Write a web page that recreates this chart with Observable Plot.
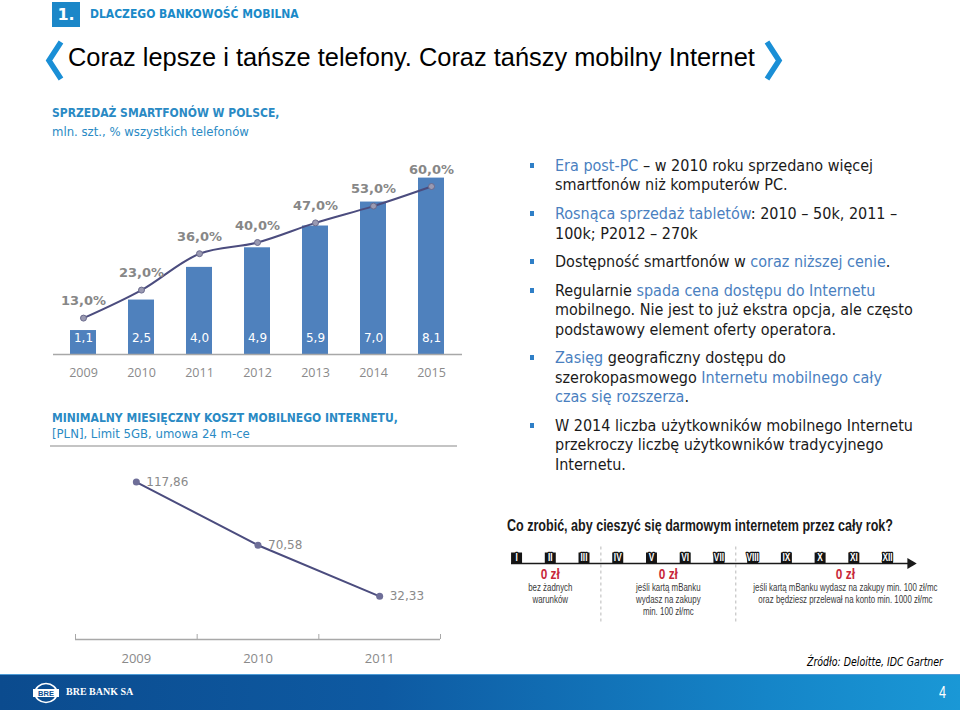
<!DOCTYPE html>
<html><head><meta charset="utf-8">
<script src="https://cdn.jsdelivr.net/npm/d3@7"></script>
<script src="https://cdn.jsdelivr.net/npm/@observablehq/plot@0.6"></script>
<style>
body{margin:0;background:#fff;}
#slide{position:relative;width:960px;height:710px;overflow:hidden;font-family:"DejaVu Sans Condensed","DejaVu Sans",sans-serif;font-stretch:condensed;color:#1a1a1a;}
.abs{position:absolute;white-space:nowrap;}
.chart{font-stretch:normal;}
.blue{color:#4a7fbf;}
#bullets{position:absolute;left:555px;top:156px;font-size:16px;line-height:19.4px;}
#bullets p{margin:0 0 9.3px 0;position:relative;white-space:nowrap;}
#bullets p::before{content:"";position:absolute;left:-25px;top:7px;width:4px;height:5px;background:#2f7fc7;}
.fit{transform-origin:0 50%;}
</style></head>
<body><div id="slide">
  <div class="abs" style="left:52px;top:2px;width:28px;height:25px;background:#1b87c8;color:#fff;font:bold 16px 'DejaVu Sans',sans-serif;line-height:25px;text-align:center;">1.</div>
  <div class="abs" style="left:90px;top:6px;font-size:12px;font-weight:bold;line-height:16px;color:#1a8ac8;">DLACZEGO BANKOWOŚĆ MOBILNA</div>
  <svg class="abs" style="left:40px;top:36px" width="30" height="50"><polyline points="21,6 9,24.5 21,43" fill="none" stroke="#1a8fd6" stroke-width="5.5" stroke-linejoin="miter"/></svg>
  <svg class="abs" style="left:755px;top:36px" width="30" height="50"><polyline points="12,6 24,24.5 12,43" fill="none" stroke="#1a8fd6" stroke-width="5.5" stroke-linejoin="miter"/></svg>
  <div class="abs" style="left:68px;top:43px;font-family:'Liberation Sans',Arial,sans-serif;font-stretch:normal;font-size:25.4px;line-height:28px;color:#000;">Coraz lepsze i tańsze telefony. Coraz tańszy mobilny Internet</div>

  <div class="abs" style="left:52px;top:105px;font-size:12px;font-weight:bold;line-height:16px;color:#2a8ac4;">SPRZEDAŻ SMARTFONÓW W POLSCE,</div>
  <div class="abs" style="left:52px;top:124px;font-size:13px;line-height:16px;color:#2a8ac4;">mln. szt., % wszystkich telefonów</div>
  <div id="chart1" class="abs chart" style="left:40px;top:150px;width:440px;height:240px;"></div>

  <div class="abs" style="left:52px;top:410px;font-size:12px;font-weight:bold;line-height:16px;color:#2a8ac4;">MINIMALNY MIESIĘCZNY KOSZT MOBILNEGO INTERNETU,</div>
  <div class="abs" style="left:52px;top:426px;font-size:13px;line-height:16px;color:#2a8ac4;">[PLN], Limit 5GB, umowa 24 m-ce</div>
  <div class="abs" style="left:50px;top:445px;width:407px;height:2px;background:#c4c4c4;"></div>
  <div id="chart2" class="abs chart" style="left:40px;top:450px;width:440px;height:225px;"></div>

  <div id="bullets">
    <p><span class="blue">Era post-PC</span> – w 2010 roku sprzedano więcej<br>smartfonów niż komputerów PC.</p>
    <p><span class="blue">Rosnąca sprzedaż tabletów</span>: 2010 – 50k, 2011 –<br>100k; P2012 – 270k</p>
    <p>Dostępność smartfonów w <span class="blue">coraz niższej cenie</span>.</p>
    <p>Regularnie <span class="blue">spada cena dostępu do Internetu</span><br>mobilnego. Nie jest to już ekstra opcja, ale często<br>podstawowy element oferty operatora.</p>
    <p><span class="blue">Zasięg</span> geograficzny dostępu do<br>szerokopasmowego <span class="blue">Internetu mobilnego cały<br>czas się rozszerza</span>.</p>
    <p>W 2014 liczba użytkowników mobilnego Internetu<br>przekroczy liczbę użytkowników tradycyjnego<br>Internetu.</p>
  </div>

  <div class="abs fit" data-fit="386" style="left:507px;top:516px;font-family:'Liberation Sans',Arial,sans-serif;font-stretch:normal;font-size:16px;font-weight:bold;line-height:20px;color:#1a1a1a;">Co zrobić, aby cieszyć się darmowym internetem przez cały rok?</div>
  <div id="chart3" class="abs chart" style="left:480px;top:540px;width:460px;height:90px;"></div>

  <div class="abs fit" data-fit="136" style="left:807px;top:654px;font-size:12px;font-style:italic;line-height:16px;color:#000;">Źródło: Deloitte, IDC Gartner</div>

  <div class="abs" style="left:0;top:674px;width:960px;height:36px;background:linear-gradient(to right,#0b4b8e 0%,#0e5aa2 40%,#1585c8 80%,#1a98d6 100%);border-top:1px solid #4d9bd6;"></div>
  <svg class="abs" style="left:33px;top:682px" width="28" height="22">
    <ellipse cx="13" cy="11" rx="11" ry="9.5" fill="none" stroke="#fff" stroke-width="1.6"/>
    <rect x="0" y="7" width="26" height="8" fill="#fff"/>
    <text x="13" y="13.8" text-anchor="middle" font-family="Liberation Sans" font-weight="bold" font-size="7.5" fill="#0c4f93">BRE</text>
  </svg>
  <div class="abs" style="left:66px;top:685px;font-family:'Liberation Serif',serif;font-stretch:normal;font-weight:bold;font-size:10px;line-height:14px;color:#fff;">BRE BANK SA</div>
  <div class="abs fit" data-fit="7" style="left:939px;top:684px;font-family:'Liberation Sans',sans-serif;font-stretch:normal;font-size:16px;line-height:18px;color:#fff;">4</div>
</div>
<script>
// ---- data ----
const years = ["2009", "2010", "2011", "2012", "2013", "2014", "2015"];
const salesMln = [1.1, 2.5, 4.0, 4.9, 5.9, 7.0, 8.1];
const sharePct = [13.0, 23.0, 36.0, 40.0, 47.0, 53.0, 60.0];
const costYears = [2009, 2010, 2011];
const costPln = [117.86, 70.58, 32.33];
const months = ["I", "II", "III", "IV", "V", "VI", "VII", "VIII", "IX", "X", "XI", "XII"];
const phaseCenter = [2, 5.5, 10.75];
const phaseTitle = ["0 zł", "0 zł", "0 zł"];
const phaseText = ["bez żadnych\nwarunków", "jeśli kartą mBanku\nwydasz na zakupy\nmin. 100 zł/mc", "jeśli kartą mBanku wydasz na zakupy min. 100 zł/mc\noraz będziesz przelewał na konto min. 1000 zł/mc"];
const phaseBreaks = [3.5, 7.5];

const pl = (v, d) => v.toFixed(d).replace(".", ",");
const salesData = years.map((y, i) => ({year: y, sales: salesMln[i], share: sharePct[i]}));
const costData = costYears.map((y, i) => ({year: y, cost: costPln[i]}));
const monthData = months.map((m, i) => ({m, i: i + 1}));
const phases = phaseCenter.map((c, i) => ({c, title: phaseTitle[i], desc: phaseText[i]}));

const tah = "'DejaVu Sans', sans-serif";
const open = "'Open Sans', sans-serif";
const place = (svg, id) => { svg.style.position = "absolute"; svg.style.left = "0"; svg.style.top = "0"; document.getElementById(id).appendChild(svg); };

// ---- chart 1: bars + share line (overlaid, shared x) ----
const dims1 = {width: 440, height: 240, marginLeft: 13, marginRight: 18, marginTop: 8, marginBottom: 36};
const xBand = {type: "band", domain: years, paddingInner: 0.55, paddingOuter: 0.27, label: null};
const bars = Plot.plot({
  ...dims1,
  style: {background: "transparent", overflow: "visible", fontStretch: "normal"},
  x: xBand,
  y: {domain: [0, 9], axis: null},
  marks: [
    Plot.barY(salesData, {x: "year", y: "sales", fill: "#4f81bd"}),
    Plot.ruleY([0], {stroke: "#a8a8a8", strokeWidth: 1.5}),
    Plot.text(salesData, {x: "year", y: 0, text: d => pl(d.sales, 1), dy: -16, fill: "white", fontSize: 12, fontFamily: tah}),
    Plot.axisX({tickSize: 0, tickPadding: 14, fontSize: 12.5, fontFamily: open, color: "#8a8a8a", label: null})
  ]
});
place(bars, "chart1");
const share = Plot.plot({
  ...dims1,
  style: {background: "transparent", overflow: "visible", fontStretch: "normal"},
  x: {...xBand, axis: null},
  y: {domain: [0, 70], axis: null},
  marks: [
    Plot.line(salesData, {x: "year", y: "share", curve: "catmull-rom", stroke: "#4b4c7e", strokeWidth: 2}),
    Plot.dot(salesData, {x: "year", y: "share", r: 3, fill: "#9a9ab2", stroke: "#6a6a8c", strokeWidth: 1}),
    Plot.text(salesData, {x: "year", y: "share", text: d => pl(d.share, 1) + "%", dy: -17, fill: "#878787", fontWeight: "bold", fontSize: 13, fontFamily: tah})
  ]
});
place(share, "chart1");

// ---- chart 2: monthly cost ----
const edges = [...costYears.map(y => y - 0.5), costYears[costYears.length - 1] + 0.5];
const cost = Plot.plot({
  width: 440, height: 225, marginLeft: 35, marginRight: 40, marginTop: 10, marginBottom: 36,
  style: {background: "transparent", overflow: "visible", fontStretch: "normal"},
  x: {domain: [edges[0], edges[edges.length - 1]], label: null},
  y: {domain: [0, 134], axis: null},
  marks: [
    Plot.ruleY([0], {stroke: "#a8a8a8", strokeWidth: 1.5}),
    Plot.axisX({ticks: edges, tickSize: -5, tickFormat: () => "", stroke: "#a8a8a8", label: null}),
    Plot.axisX({ticks: costYears, tickSize: 0, tickPadding: 14, tickFormat: d => String(d), fontSize: 13, fontFamily: open, color: "#8a8a8a", label: null}),
    Plot.line(costData, {x: "year", y: "cost", stroke: "#4b4c7e", strokeWidth: 2}),
    Plot.dot(costData, {x: "year", y: "cost", r: 3.5, fill: "#6e6e98"}),
    Plot.text(costData, {x: "year", y: "cost", text: d => pl(d.cost, 2), dx: 10, textAnchor: "start", fill: "#8a8a8a", fontSize: 12, fontFamily: tah})
  ]
});
place(cost, "chart2");

// ---- infographic timeline ----
const lib = "'Liberation Sans', Arial, sans-serif";
const xDom = [0.85, 12.68];
const timeline = Plot.plot({
  width: 460, height: 90, marginLeft: 31, marginRight: 30, marginTop: 6.5, marginBottom: 6.5,
  style: {background: "transparent", overflow: "visible", fontStretch: "normal"},
  x: {domain: xDom, axis: null},
  y: {domain: [-5.5, 1.5], axis: null},
  marks: [
    Plot.ruleX(phaseBreaks, {stroke: "#b8b8b8", strokeDasharray: "3,3"}),
    Plot.ruleY([0], {stroke: "#1a1a1a", strokeWidth: 1.5}),
    Plot.dot([xDom[1]], {x: d => d, y: 0, symbol: "triangle", rotate: 90, r: 4, fill: "#1a1a1a"}),
    Plot.dot(monthData, {x: "i", y: 0.5, symbol: "square", r: 6.2, fill: "#141414"}),
    Plot.text(monthData, {x: "i", y: 0.5, text: "m", fill: "white", stroke: "#141414", strokeWidth: 2.5, fontWeight: "bold", fontSize: 10.5, fontFamily: lib}),
    Plot.text(phases, {x: "c", y: 0, text: "title", dy: 11, fill: "#c8283a", fontWeight: "bold", fontSize: 15, fontFamily: lib}),
    Plot.text(phases, {x: "c", y: 0, text: "desc", dy: 19, lineAnchor: "top", lineHeight: 1.2, fill: "#3a3a3a", fontSize: 10, fontFamily: lib})
  ]
});
place(timeline, "chart3");
// condense the infographic lettering (narrow typeface look)
d3.select(timeline).selectAll('g[aria-label="text"] text').each(function() {
  const t = this.getAttribute("transform");
  if (t) this.setAttribute("transform", t + " scale(0.79,1)");
  else {
    const x = +this.getAttribute("x") || 0, y = +this.getAttribute("y") || 0;
    this.removeAttribute("x"); this.removeAttribute("y");
    this.setAttribute("transform", `translate(${x},${y}) scale(0.79,1)`);
  }
});
// fit condensed HTML texts to their widths
document.querySelectorAll(".fit").forEach(el => {
  const w = +el.dataset.fit, cur = el.getBoundingClientRect().width;
  if (cur > 0) el.style.transform = `scaleX(${w / cur})`;
});
</script>
</body></html>
